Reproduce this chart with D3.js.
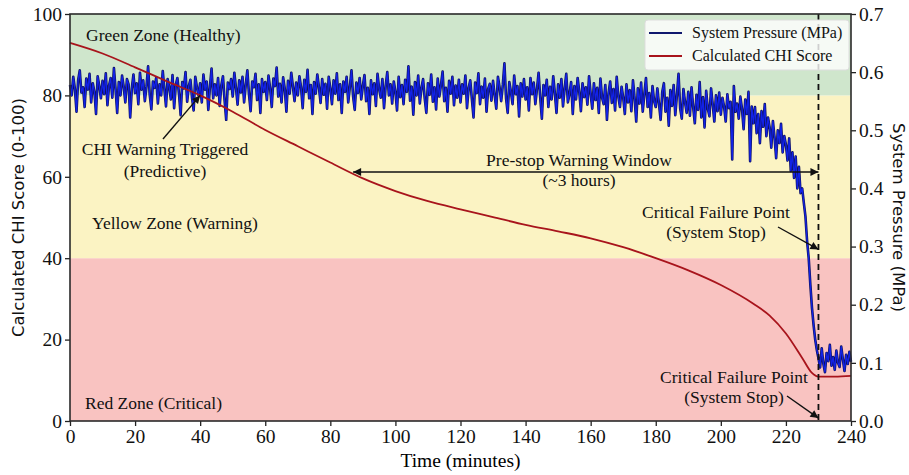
<!DOCTYPE html>
<html>
<head>
<meta charset="utf-8">
<script src="https://cdn.jsdelivr.net/npm/d3@7"></script>
<style>
  body { margin: 0; background: #fff; }
  .tick text { font-family: "Liberation Serif", serif; font-size: 19.5px; fill: #111; }
  .zone-label, .note { font-family: "Liberation Serif", serif; font-size: 17.5px; fill: #111; }
  .axis-title-sans { font-family: "DejaVu Sans", sans-serif; font-size: 16.5px; fill: #111; }
</style>
</head>
<body>
<div id="chart"></div>
<script>
var svgWidth = 909;
var svgHeight = 475;
var margin = {top: 14, right: 58, bottom: 54, left: 70};
var width = svgWidth - margin.left - margin.right;
var height = svgHeight - margin.top - margin.bottom;

// zones of the CHI score
var zoneNames = ["Red Zone (Critical)", "Yellow Zone (Warning)", "Green Zone (Healthy)"];
var zoneLow = [0, 40, 80];
var zoneHigh = [40, 80, 100];
var zoneColors = ["#f9c3c1", "#fbf3c3", "#cfe6cc"];

// calculated CHI score
var chiTimes = [0, 10, 20, 30, 40, 50, 60, 70, 80, 90, 100, 110, 120, 130, 140, 150, 160, 170, 180, 190, 200, 210, 215, 220, 225, 228, 230, 235, 240];
var chiValues = [92.9, 90.3, 86.9, 83.4, 80, 76, 71.5, 67.5, 63.5, 59.6, 56.5, 54, 52, 50.1, 48.2, 46.6, 44.9, 42.7, 40, 37, 33.4, 28.8, 25.9, 21.5, 15.5, 11.8, 10.9, 10.9, 11.1];

// system pressure in kPa, every half minute from 0 to 240
var pressureKPa = [
  578, 560, 592, 571, 532, 586, 603, 565, 574, 540, 589, 570, 597, 548, 581, 566, 528, 593, 576, 555,
  585, 562, 598, 543, 577, 590, 556, 607, 571, 530, 583, 560, 594, 575, 548, 588, 579, 522, 572, 596,
  564, 581, 545, 599, 570, 586, 550, 575, 610, 561, 536, 584, 573, 591, 546, 579, 560, 602, 571, 541,
  588, 574, 553, 595, 538, 578, 590, 562, 526, 583, 572, 600, 549, 576, 587, 556, 534, 592, 574, 560,
  581, 548, 596, 570, 584, 535, 575, 606, 555, 579, 560, 590, 542, 577, 593, 552, 518, 582, 571, 588,
  558, 599, 573, 544, 586, 565, 592, 548, 578, 603, 562, 533, 584, 574, 597, 552, 579, 530, 588, 566,
  583, 552, 594, 572, 540, 589, 576, 608, 558, 580, 548, 591, 571, 532, 585, 563, 599, 575, 550, 582,
  560, 593, 574, 538, 587, 566, 604, 555, 578, 528, 583, 563, 596, 574, 547, 588, 561, 580, 537, 592,
  572, 545, 586, 563, 598, 552, 579, 530, 584, 566, 592, 548, 575, 603, 558, 535, 582, 564, 590, 553,
  577, 595, 550, 573, 528, 586, 562, 581, 542, 597, 571, 556, 588, 538, 576, 600, 560, 579, 546, 584,
  566, 534, 592, 557, 578, 545, 587, 566, 610, 551, 575, 527, 583, 560, 594, 546, 573, 588, 555, 530,
  581, 561, 596, 549, 574, 536, 589, 558, 578, 601, 550, 573, 532, 585, 563, 592, 543, 577, 556, 587,
  548, 579, 563, 594, 538, 573, 586, 553, 522, 582, 564, 598, 545, 575, 556, 589, 532, 571, 580, 551,
  585, 560, 537, 592, 574, 550, 578, 615, 555, 530, 583, 566, 545, 594, 562, 576, 524, 581, 558, 588,
  553, 574, 534, 590, 562, 582, 545, 571, 599, 556, 520, 578, 560, 587, 540, 575, 553, 593, 563, 530,
  579, 556, 588, 541, 572, 597, 548, 563, 583, 528, 576, 553, 590, 566, 533, 581, 557, 574, 544, 593,
  562, 537, 581, 552, 573, 530, 589, 556, 545, 578, 518, 564, 584, 547, 571, 534, 592, 558, 540, 575,
  556, 528, 579, 548, 569, 533, 586, 555, 515, 572, 546, 582, 532, 562, 590, 540, 564, 522, 576, 550,
  540, 572, 545, 518, 566, 581, 532, 556, 508, 569, 542, 578, 526, 560, 597, 538, 520, 571, 548, 530,
  566, 525, 574, 540, 512, 561, 535, 583, 522, 557, 505, 568, 537, 524, 572, 545, 515, 560, 533, 565,
  527, 556, 541, 515, 562, 538, 549, 450, 576, 532, 546, 520, 558, 537, 502, 553, 528, 566, 447, 541,
  512, 540, 495, 528, 478, 533, 506, 545, 490, 522,
  505, 470, 516, 488, 452, 500, 478, 511, 462, 490,
  475, 448, 486, 430, 462, 418, 455, 400, 437, 392,
  400, 375, 352, 310, 280, 235, 195, 165, 140, 122,
  108, 92, 125, 99, 84, 117, 103, 131, 95, 110, 88, 121, 100, 93, 128, 106, 86, 114, 98, 119, 102
];

var xTicks = [0, 20, 40, 60, 80, 100, 120, 140, 160, 180, 200, 220, 240];
var yTicks = [0, 20, 40, 60, 80, 100];
var y2Ticks = [0, 0.1, 0.2, 0.3, 0.4, 0.5, 0.6, 0.7];

var stopTime = 230;

var svg = d3.select("#chart")
  .append("svg")
  .attr("width", svgWidth)
  .attr("height", svgHeight);

var defs = svg.append("defs");
defs.append("marker")
  .attr("id", "head")
  .attr("viewBox", "0 0 10 10")
  .attr("refX", 10).attr("refY", 5)
  .attr("markerWidth", 11).attr("markerHeight", 8)
  .attr("markerUnits", "userSpaceOnUse")
  .attr("orient", "auto-start-reverse")
  .append("path")
  .attr("d", "M0,0 L10,5 L0,10 Z")
  .attr("fill", "#111");

var chartGroup = svg.append("g")
  .attr("transform", `translate(${margin.left}, ${margin.top})`);

var xScale = d3.scaleLinear().domain([0, 240]).range([0, width]);
var yScale = d3.scaleLinear().domain([0, 100]).range([height, 0]);
var y2Scale = d3.scaleLinear().domain([0, 0.7]).range([height, 0]);

// coloured zones
chartGroup.selectAll("rect.zone")
  .data(zoneNames)
  .enter()
  .append("rect")
  .attr("class", "zone")
  .attr("x", 0)
  .attr("width", width)
  .attr("y", (d, i) => yScale(zoneHigh[i]))
  .attr("height", (d, i) => yScale(zoneLow[i]) - yScale(zoneHigh[i]))
  .attr("fill", (d, i) => zoneColors[i]);

// pressure line (dark edge under a bright core, like the source render)
var pressureLine = d3.line()
  .x((d, i) => xScale(i * 240 / (pressureKPa.length - 1)))
  .y(d => y2Scale(d / 1000));

chartGroup.append("path")
  .datum(pressureKPa)
  .attr("d", pressureLine)
  .attr("fill", "none")
  .attr("stroke", "#10125e")
  .attr("stroke-width", 2.6)
  .attr("stroke-linejoin", "round");

chartGroup.append("path")
  .datum(pressureKPa)
  .attr("d", pressureLine)
  .attr("fill", "none")
  .attr("stroke", "#1222e6")
  .attr("stroke-width", 1.3)
  .attr("stroke-linejoin", "round");

// CHI line
var chiLine = d3.line()
  .x((d, i) => xScale(chiTimes[i]))
  .y(d => yScale(d))
  .curve(d3.curveMonotoneX);

chartGroup.append("path")
  .datum(chiValues)
  .attr("d", chiLine)
  .attr("fill", "none")
  .attr("stroke", "#a8141c")
  .attr("stroke-width", 1.8);

// system stop marker
chartGroup.append("line")
  .attr("x1", xScale(stopTime)).attr("x2", xScale(stopTime))
  .attr("y1", 0).attr("y2", height)
  .attr("stroke", "#111")
  .attr("stroke-width", 1.8)
  .attr("stroke-dasharray", "6,4");

// axes
var bottomAxis = d3.axisBottom(xScale).tickValues(xTicks).tickSizeOuter(0).tickSize(5).tickPadding(3);
var leftAxis = d3.axisLeft(yScale).tickValues(yTicks).tickSizeOuter(0).tickSize(5).tickPadding(3);
var rightAxis = d3.axisRight(y2Scale).tickValues(y2Ticks).tickFormat(d3.format(".1f")).tickSizeOuter(0).tickSize(5).tickPadding(3);

chartGroup.append("g").attr("transform", `translate(0, ${height})`).call(bottomAxis);
chartGroup.append("g").call(leftAxis);
chartGroup.append("g").attr("transform", `translate(${width}, 0)`).call(rightAxis);
chartGroup.selectAll(".domain").remove();
chartGroup.selectAll(".tick line").attr("stroke", "#222").attr("stroke-width", 1.3);

// frame
chartGroup.append("rect")
  .attr("width", width).attr("height", height)
  .attr("fill", "none")
  .attr("stroke", "#2a2a2a")
  .attr("stroke-width", 1.6);

// zone labels
var zoneLabelY = [409, 229, 41];
var zoneLabelX = [85, 92, 86];
svg.selectAll("text.zone-label")
  .data(zoneNames)
  .enter()
  .append("text")
  .attr("class", "zone-label")
  .attr("x", (d, i) => zoneLabelX[i])
  .attr("y", (d, i) => zoneLabelY[i])
  .text(d => d);

// annotations
function note(lines, cx, y0, gap) {
  lines.forEach(function (t, i) {
    svg.append("text")
      .attr("class", "note")
      .attr("text-anchor", "middle")
      .attr("x", cx)
      .attr("y", y0 + i * gap)
      .text(t);
  });
}
function arrow(x1, y1, x2, y2, both) {
  svg.append("line")
    .attr("x1", x1).attr("y1", y1).attr("x2", x2).attr("y2", y2)
    .attr("stroke", "#111").attr("stroke-width", 1.4)
    .attr("marker-end", "url(#head)")
    .attr("marker-start", both ? "url(#head)" : null);
}
var mx = t => margin.left + xScale(t);
var myChi = v => margin.top + yScale(v);
var myP = v => margin.top + y2Scale(v);

note(["CHI Warning Triggered", "(Predictive)"], 165, 155, 22);
arrow(163, 139, mx(40), myChi(80), false);

note(["Pre-stop Warning Window", "(~3 hours)"], 579, 166, 20);
arrow(mx(87), 172, mx(stopTime), 172, true);

note(["Critical Failure Point", "(System Stop)"], 716, 218, 20);
arrow(778, 227, mx(stopTime), myP(0.295), false);

note(["Critical Failure Point", "(System Stop)"], 734, 383, 20);
arrow(787, 396, mx(stopTime), myP(0.005), false);

// axis titles
svg.append("text")
  .attr("class", "axis-title-sans")
  .attr("transform", `translate(24, ${margin.top + height / 2}) rotate(-90)`)
  .attr("text-anchor", "middle")
  .text("Calculated CHI Score (0-100)");

svg.append("text")
  .attr("class", "axis-title-sans")
  .attr("transform", `translate(893, ${margin.top + height / 2}) rotate(90)`)
  .attr("text-anchor", "middle")
  .text("System Pressure (MPa)");

svg.append("text")
  .attr("x", margin.left + width / 2)
  .attr("y", 467)
  .attr("text-anchor", "middle")
  .style("font-family", "Liberation Serif, serif")
  .style("font-size", "19.5px")
  .text("Time (minutes)");

// legend
var legendNames = ["System Pressure (MPa)", "Calculated CHI Score"];
var legendColors = ["#10186e", "#a8141c"];
var legend = svg.append("g").attr("transform", "translate(645, 20)");
legend.append("rect")
  .attr("width", 204).attr("height", 50).attr("rx", 3)
  .attr("fill", "#fff").attr("fill-opacity", 0.8)
  .attr("stroke", "#ddd");
legendNames.forEach(function (n, i) {
  legend.append("line")
    .attr("x1", 4).attr("x2", 37)
    .attr("y1", 13 + i * 23).attr("y2", 13 + i * 23)
    .attr("stroke", legendColors[i]).attr("stroke-width", 2.2);
  legend.append("text")
    .attr("class", "note")
    .style("font-size", "16px")
    .attr("x", 47)
    .attr("y", 18 + i * 23)
    .text(n);
});
</script>
</body>
</html>
